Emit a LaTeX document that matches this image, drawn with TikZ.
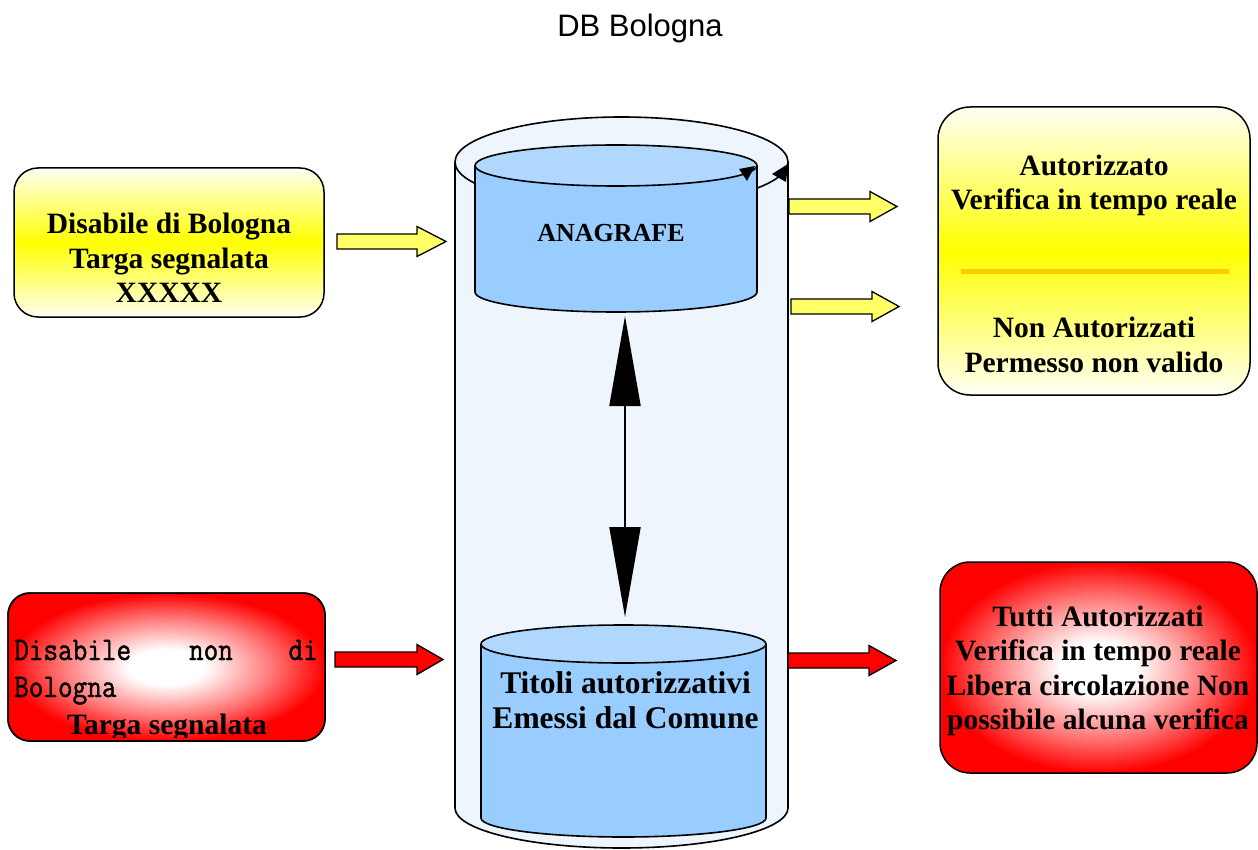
\documentclass[tikz,border=0pt]{standalone}
\usepackage{fontspec}
\setmainfont{Liberation Serif}
\newfontfamily\arialfont{Liberation Sans}
\newfontfamily\narrowmono{Latin Modern Mono}[FakeStretch=0.86, FakeBold=1.2]
\usetikzlibrary{arrows.meta}
\definecolor{lightyel}{HTML}{FFFFF4}
\definecolor{arrowyel}{HTML}{FFFF66}
\definecolor{cylout}{HTML}{EEF5FD}
\definecolor{cylin}{HTML}{99CCFF}
\definecolor{cyltop}{HTML}{B0D8FF}
\definecolor{sepline}{HTML}{FFCC00}
\pgfdeclareradialshading{redglow}{\pgfpoint{0bp}{0bp}}{color(0bp)=(white); color(6bp)=(white); color(16bp)=(red!50!white); color(25bp)=(red); color(50bp)=(red)}
\tikzset{
  ybox/.style={draw, line width=1.5pt, top color=lightyel, bottom color=lightyel, middle color=yellow, inner sep=0pt},
  rbox/.style={draw, line width=1.5pt, shade, shading=redglow, inner sep=0pt},
  boxtext/.style={font=\fontsize{29.5}{34.5}\selectfont\bfseries, align=center, inner sep=0pt},
  monotext/.style={font=\fontsize{33}{37}\selectfont\narrowmono, inner sep=0pt},
  cylline/.style={line width=1.6pt, black},
  blk/.style={draw=black, line width=1.3pt, line join=miter},
}
\newcommand{\blkarrow}[5]{%
  \draw[blk, fill=#5] (#1,#4-7.5) -- (#2,#4-7.5) -- (#2,#4-15) -- (#3,#4) -- (#2,#4+15) -- (#2,#4+7.5) -- (#1,#4+7.5) -- cycle;}
\begin{document}
\begin{tikzpicture}[x=1pt, y=-1pt]
\path[use as bounding box, fill=white] (0,0) rectangle (1258,850);

% title
\node[font=\fontsize{31}{36}\selectfont\arialfont, inner sep=0pt] (title) at (640,28) {DB Bologna};

% outer cylinder
\fill[cylout] (455,162) -- (455,808) arc[start angle=180, end angle=0, x radius=166.5, y radius=40] -- (788,162) arc[start angle=0, end angle=-180, x radius=166.5, y radius=45] -- cycle;
\draw[cylline] (621.5,162) ellipse[x radius=166.5, y radius=45];
\draw[cylline] (455,162) -- (455,808) arc[start angle=180, end angle=0, x radius=166.5, y radius=40] -- (788,162);

% inner cylinder ANAGRAFE
\fill[cylin] (475,165.5) -- (475,292) arc[start angle=180, end angle=0, x radius=141, y radius=20] -- (757,165.5) arc[start angle=0, end angle=180, x radius=141, y radius=20.5] -- cycle;
\draw[cylline, fill=cyltop] (616,165.5) ellipse[x radius=141, y radius=20.5];
\draw[cylline] (475,165.5) -- (475,292) arc[start angle=180, end angle=0, x radius=141, y radius=20] -- (757,165.5);
\fill (755,166) -- (739,169) -- (747,181) -- cycle;
\fill (788,164) -- (772,174) -- (786,182) -- cycle;
\node[font=\fontsize{26}{30}\selectfont\bfseries, inner sep=0pt] (anag) at (611,233) {ANAGRAFE};

% inner cylinder Titoli
\fill[cylin] (481,644) -- (481,818) arc[start angle=180, end angle=0, x radius=142.5, y radius=19] -- (766,644) arc[start angle=0, end angle=180, x radius=142.5, y radius=19] -- cycle;
\draw[cylline, fill=cyltop] (623.5,644) ellipse[x radius=142.5, y radius=19];
\draw[cylline] (481,644) -- (481,818) arc[start angle=180, end angle=0, x radius=142.5, y radius=19] -- (766,644);
\node[font=\fontsize{31.5}{35}\selectfont\bfseries, align=center, inner sep=0pt] (titoli) at (625.5,700.5) {Titoli autorizzativi\\Emessi dal Comune};

% double arrow
\coordinate (dtop) at (625,316);
\coordinate (dbot) at (625,617);
\draw[line width=2pt, {Triangle[length=90pt,width=31pt]}-{Triangle[length=90pt,width=31pt]}] (dtop) -- (dbot);

% left yellow box
\node[ybox, rounded corners=24pt, minimum width=310pt, minimum height=149pt] (disbo) at (169,242.5) {};
\node[boxtext] (disbotext) at (169,258) {Disabile di Bologna\\Targa segnalata\\XXXXX};

% right yellow box
\node[ybox, rounded corners=32pt, minimum width=312pt, minimum height=288pt] (esito) at (1094,251) {};
\node[boxtext] (aut) at (1094,185.5) {Autorizzato\\Verifica in tempo reale};
\draw[sepline, line width=5pt] (961,272) -- (1229,272);
\node[boxtext] (nonaut) at (1094,345) {Non Autorizzati\\Permesso non valido};

% left red box
\node[rbox, rounded corners=22pt, minimum width=317pt, minimum height=148pt] (disnon) at (166.5,667) {};
\begin{scope}
\clip[rounded corners=22pt] (8.8,593.8) rectangle (324.2,737);
\node[monotext, anchor=base west] (t1) at (14,660) {Disabile};
\node[monotext, anchor=base] (t2) at (211,660) {non};
\node[monotext, anchor=base east] (t3) at (318,660) {di};
\node[monotext, anchor=base west] (t4) at (14,697) {Bologna};
\node[boxtext, anchor=base] (t5) at (167,734) {Targa segnalata};
\end{scope}
\draw[line width=1.5pt, rounded corners=22pt] (8,593) rectangle (325,741);

% right red box
\node[rbox, rounded corners=30pt, minimum width=317pt, minimum height=211pt] (tutti) at (1098.5,667.5) {};
\node[boxtext] (tuttitext) at (1098,671) {Tutti Autorizzati\\Verifica in tempo reale\\Libera circolazione Non\\possibile alcuna verifica};

% block arrows
\blkarrow{337}{417}{446}{241.5}{arrowyel}
\blkarrow{789}{870}{897}{206.5}{arrowyel}
\blkarrow{791}{872}{899}{306.5}{arrowyel}
\blkarrow{335}{417}{443}{659.5}{red}
\blkarrow{788}{869}{896}{660.5}{red}
\end{tikzpicture}
\end{document}
